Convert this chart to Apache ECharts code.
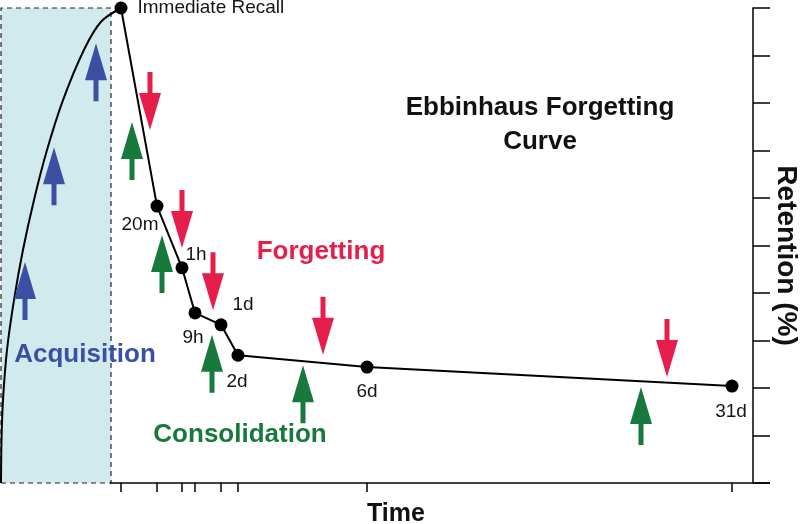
<!DOCTYPE html>
<html>
<head>
<meta charset="utf-8">
<script src="https://cdn.jsdelivr.net/npm/echarts@6/dist/echarts.min.js"></script>
<style>html,body{margin:0;padding:0;background:#fff}#c{width:800px;height:524px}</style>
</head>
<body>
<div id="c"></div>
<script>
// ---- data (x: relative time position units, y: retention %) ----
var pointLabels = ['Immediate Recall', '20m', '1h', '9h', '1d', '2d', '6d', '31d'];
var pointX = [1.1, 4.7, 7.2, 8.5, 11.1, 12.8, 25.7, 62.2];
var pointY = [100, 58.3, 45.3, 35.8, 33.3, 26.9, 24.4, 20.4];

var acquisitionX = [-10.9, -10.85, -10.7, -10.3, -9.6, -8.7, -7.6, -6.3, -4.7, -2.6, -0.9, 1.1];
var acquisitionY = [0, 9.1, 17.5, 28.0, 38.5, 49.1, 59.6, 70.1, 80.6, 91.2, 97.1, 100];

var acquisitionArrowX = [-1.4, -5.6, -8.5];
var acquisitionArrowY = [86.5, 64.6, 40.4];
var forgettingArrowX = [4.0, 7.2, 10.3, 21.3, 55.7];
var forgettingArrowY = [80.4, 55.6, 42.5, 33.1, 28.4];
var consolidationArrowX = [2.2, 5.2, 10.2, 19.3, 53.1];
var consolidationArrowY = [69.9, 46.1, 25.1, 18.7, 14.1];

var acquisitionRange = [-10.9, 0.1];
var yTicks = {min: 0, max: 100, interval: 10};

// ---- styles ----
var FONT = "'Liberation Sans', Arial, sans-serif";
var BLUE = '#3b50a3', RED = '#e71d4c', GREEN = '#17793b', FILL = '#d1eaed';
var labelStyle = {
  'Immediate Recall': {position: 'right', distance: 10},
  '20m': {offset: [-17, 19]},
  '1h': {offset: [14, -13]},
  '9h': {offset: [-2, 25]},
  '1d': {offset: [22, -20]},
  '2d': {offset: [-1, 27]},
  '6d': {offset: [0, 25]},
  '31d': {offset: [-1, 26]}
};
var ARROW = 'path://M11,0 L22,37 L13.5,37 L13.5,58 L8.5,58 L8.5,37 L0,37 Z';

function zip(xs, ys) { return xs.map(function (x, i) { return [x, ys[i]]; }); }

var mainData = pointX.map(function (x, i) {
  var ls = labelStyle[pointLabels[i]];
  var lab = {show: true, formatter: pointLabels[i], color: '#151515', fontSize: 19, fontFamily: FONT};
  if (ls.position) { lab.position = ls.position; lab.distance = ls.distance; }
  else { lab.position = 'inside'; lab.offset = ls.offset; }
  return {value: [x, pointY[i]], label: lab};
});

function arrowSeries(xs, ys, color, rot) {
  return {
    type: 'scatter', data: zip(xs, ys), symbol: ARROW, symbolSize: [22, 58],
    symbolRotate: rot, itemStyle: {color: color, opacity: 1}, silent: true, z: 3, clip: false
  };
}

var chart = echarts.init(document.getElementById('c'), null, {renderer: 'canvas'});
chart.setOption({
  animation: false,
  backgroundColor: '#fff',
  grid: {left: 0, right: 30, top: 8, bottom: 41, containLabel: false, outerBoundsMode: 'none'},
  xAxis: {
    type: 'value', min: -11, max: 66,
    axisLine: {show: false},
    axisTick: {show: true, customValues: pointX, length: 9, lineStyle: {color: '#000', width: 1.5}},
    axisLabel: {show: false},
    splitLine: {show: false},
    name: 'Time', nameLocation: 'middle', nameGap: 19,
    nameTextStyle: {fontFamily: FONT, fontWeight: 'bold', fontSize: 25, color: '#111', padding: [0, 0, 0, 22]}
  },
  yAxis: {
    type: 'value', position: 'right', offset: -17,
    min: yTicks.min, max: yTicks.max, interval: yTicks.interval,
    axisLine: {show: true, onZero: false, lineStyle: {color: '#000', width: 1.5}},
    axisTick: {show: true, inside: false, length: 17, lineStyle: {color: '#000', width: 1.5}},
    axisLabel: {show: false},
    splitLine: {show: false},
    name: 'Retention (%)', nameLocation: 'middle', nameRotate: -90, nameGap: 19,
    nameTextStyle: {fontFamily: FONT, fontWeight: 'bold', fontSize: 28, color: '#111', padding: [0, 0, 0, 20]}
  },
  series: [
    {
      type: 'line', data: zip(acquisitionX, acquisitionY), smooth: 0.3, showSymbol: false,
      lineStyle: {color: '#000', width: 2}, silent: true, clip: false, z: 2,
      markArea: {
        silent: true,
        itemStyle: {color: FILL, borderColor: '#222', borderWidth: 1.2, borderType: [5, 4]},
        data: [[{coord: [acquisitionRange[0], yTicks.min]}, {coord: [acquisitionRange[1], yTicks.max]}]]
      }
    },
    {
      type: 'line', data: mainData, symbol: 'circle', symbolSize: 13,
      itemStyle: {color: '#000'}, lineStyle: {color: '#000', width: 2},
      silent: true, clip: false, z: 4,
      markLine: {
        silent: true, symbol: 'none', label: {show: false},
        lineStyle: {color: '#000', width: 1.5, type: 'solid'},
        data: [[{coord: [acquisitionRange[1] - 0.1, yTicks.min]}, {coord: [66, yTicks.min]}]]
      }
    },
    arrowSeries(acquisitionArrowX, acquisitionArrowY, BLUE, 0),
    arrowSeries(forgettingArrowX, forgettingArrowY, RED, 180),
    arrowSeries(consolidationArrowX, consolidationArrowY, GREEN, 0)
  ],
  graphic: [
    {type: 'text', x: 540, y: 125, z: 100, style: {text: 'Ebbinhaus Forgetting\nCurve', align: 'center', verticalAlign: 'middle', lineHeight: 34, font: "bold 26px " + FONT, fill: '#111'}},
    {type: 'text', x: 321, y: 252, z: 100, style: {text: 'Forgetting', align: 'center', verticalAlign: 'middle', font: "bold 26px " + FONT, fill: RED}},
    {type: 'text', x: 85, y: 355, z: 100, style: {text: 'Acquisition', align: 'center', verticalAlign: 'middle', font: "bold 26px " + FONT, fill: BLUE}},
    {type: 'text', x: 240, y: 435, z: 100, style: {text: 'Consolidation', align: 'center', verticalAlign: 'middle', font: "bold 26px " + FONT, fill: GREEN}}
  ]
});
</script>
</body>
</html>
